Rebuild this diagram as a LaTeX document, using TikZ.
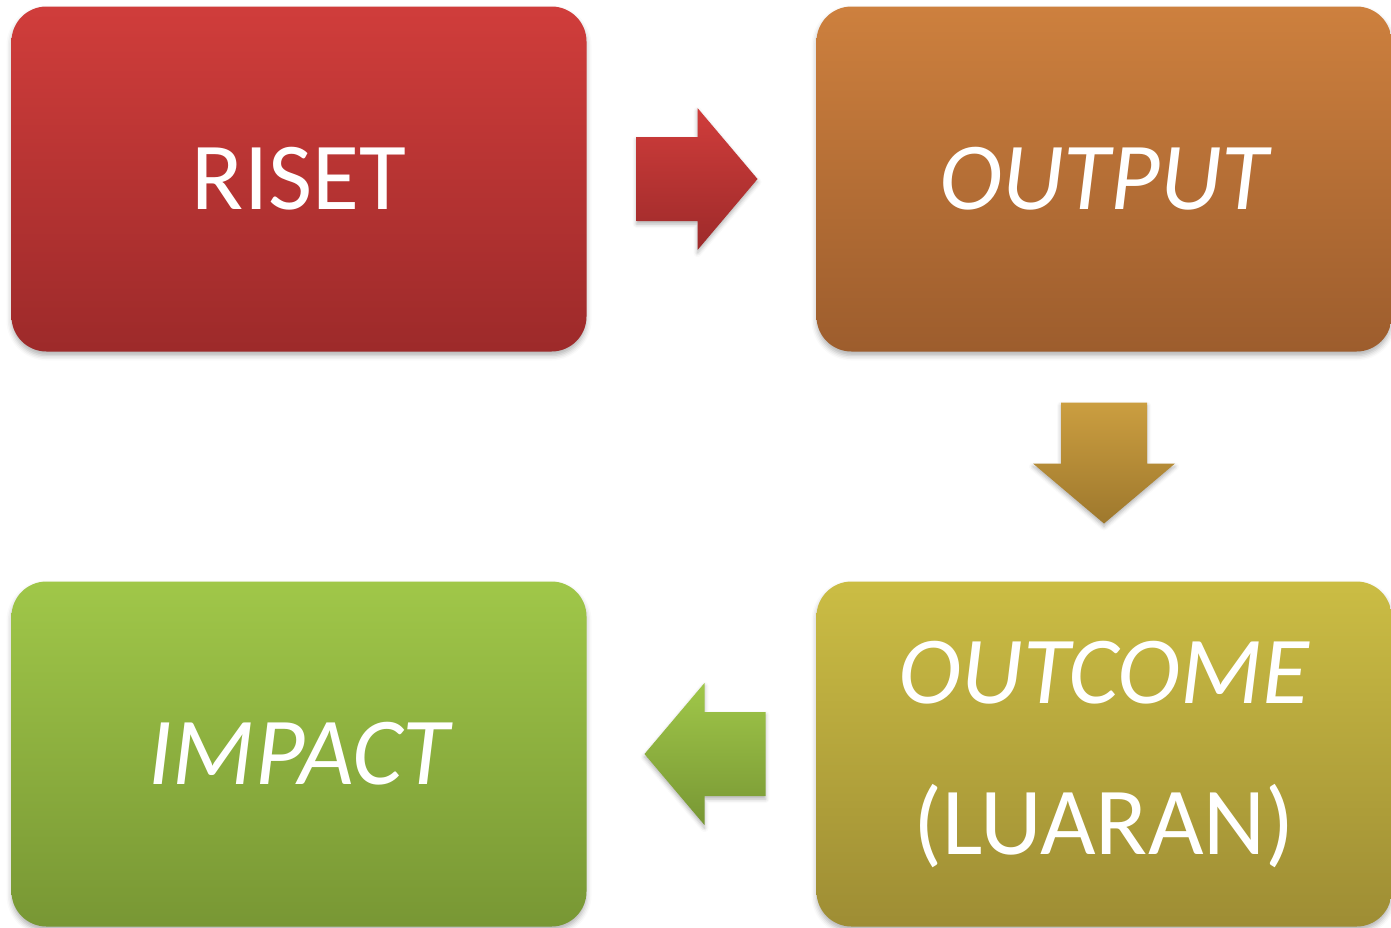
\documentclass[tikz,border=0pt]{standalone}
\usepackage{fontspec}
\setmainfont{Carlito}
\usetikzlibrary{calc}
\usetikzlibrary{shadows.blur}

\definecolor{risetTop}{RGB}{208,61,59}
\definecolor{risetBot}{RGB}{157,42,42}
\definecolor{outputTop}{RGB}{205,128,62}
\definecolor{outputBot}{RGB}{157,93,45}
\definecolor{outcomeTop}{RGB}{203,189,68}
\definecolor{outcomeBot}{RGB}{158,141,52}
\definecolor{impactTop}{RGB}{160,199,73}
\definecolor{impactBot}{RGB}{120,151,52}
\definecolor{downTop}{RGB}{203,158,64}
\definecolor{downBot}{RGB}{158,120,45}

\tikzset{
 box/.style={rounded corners=35pt, minimum width=575pt, minimum height=345pt,
  text=white, align=center, font=\fontsize{96}{151}\selectfont, inner sep=0pt,
  blur shadow={shadow xshift=0pt, shadow yshift=-4pt, shadow opacity=30, shadow blur radius=5pt}},
 blockarrow/.style={blur shadow={shadow xshift=0pt, shadow yshift=-3pt, shadow opacity=30, shadow blur radius=4pt}}
}

\begin{document}
\begin{tikzpicture} [x=1pt,y=-1pt]
\useasboundingbox (0,0) rectangle (1391,927);
\node[box, top color=risetTop, bottom color=risetBot] (riset) at (299,179) {RISET};
\node[box, top color=outputTop, bottom color=outputBot] (output) at (1104,179) {\itshape OUTPUT};
\node[box, top color=outcomeTop, bottom color=outcomeBot] (outcome) at (1104,754) {\itshape OUTCOME\\(LUARAN)};
\node[box, top color=impactTop, bottom color=impactBot] (impact) at (299,754) {\itshape IMPACT};

\coordinate (r2o) at ($(riset.east)!.5!(output.west)$);
\coordinate (o2c) at ($(output.south)!.5!(outcome.north)$);
\coordinate (c2i) at ($(outcome.west)!.5!(impact.east)$);

\shade[blockarrow, top color=risetTop, bottom color=risetBot] (r2o) ++(-65,-42) -- ++(61,0) -- ++(0,-29) -- ++(60,71) -- ++(-60,71) -- ++(0,-29) -- ++(-61,0) -- cycle;
\shade[blockarrow, top color=downTop, bottom color=downBot] (o2c) ++(-43,-64) -- ++(86,0) -- ++(0,61) -- ++(28,0) -- ++(-71,60) -- ++(-71,-60) -- ++(28,0) -- cycle;
\shade[blockarrow, top color=impactTop, bottom color=impactBot] (c2i) ++(64,-42) -- ++(-61,0) -- ++(0,-29) -- ++(-60,71) -- ++(60,71) -- ++(0,-29) -- ++(61,0) -- cycle;
\end{tikzpicture}
\end{document}
